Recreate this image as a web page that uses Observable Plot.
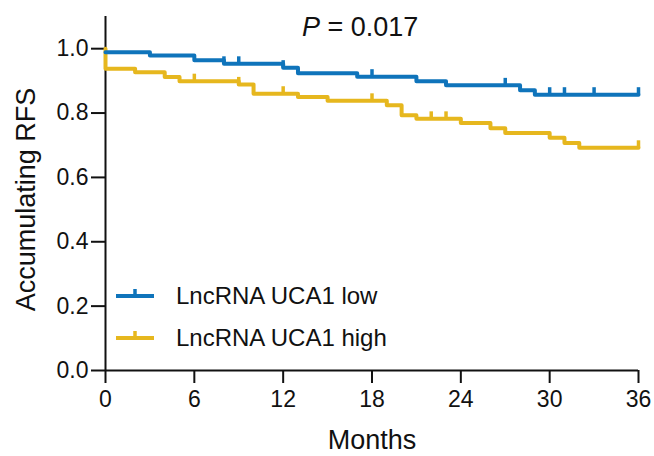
<!DOCTYPE html>
<html>
<head>
<meta charset="utf-8">
<script src="https://cdn.jsdelivr.net/npm/d3@7"></script>
<script src="https://cdn.jsdelivr.net/npm/@observablehq/plot@0.6"></script>
<style>
  body { margin: 0; background: #fff; }
  #wrap { position: relative; width: 654px; height: 456px; font-family: "Liberation Sans", Arial, sans-serif; color: #111; }
  #title { position: absolute; left: 302px; top: 14px; font-size: 27px; line-height: 27px; white-space: nowrap; }
  .lg { position: absolute; left: 116px; height: 30px; display: flex; align-items: center; font-size: 24px; line-height: 30px; white-space: nowrap; }
  .lg span { margin-left: 22px; }
  #wrap svg.plot { position: absolute; left: 0; top: 0; }
</style>
</head>
<body>
<div id="wrap">
  <div id="title"><i>P</i> = 0.017</div>
</div>
<script>
// ---- data ----
const groups = ["LncRNA UCA1 low", "LncRNA UCA1 high"];
const groupColors = ["#0f74bb", "#e6b71e"];
const monthTicks = [0, 6, 12, 18, 24, 30, 36];
const rfsTicks = [0, 0.2, 0.4, 0.6, 0.8, 1.0];

const lowTime = [0, 3, 6, 8, 12, 13, 17, 21, 23, 28, 29, 36];
const lowRFS  = [0.989, 0.979, 0.964, 0.953, 0.941, 0.924, 0.913, 0.899, 0.886, 0.871, 0.857, 0.857];
const lowCensored = [8, 9, 12, 18, 27, 30, 31, 33, 36];

const highTime = [0, 0, 2, 4, 5, 9, 10, 13, 15, 19, 20, 21, 24, 26, 27, 30, 31, 32, 36];
const highRFS  = [1.0, 0.938, 0.927, 0.912, 0.899, 0.889, 0.860, 0.850, 0.838, 0.824, 0.793, 0.782, 0.769, 0.753, 0.738, 0.723, 0.707, 0.692, 0.692];
const highCensored = [6, 9, 12, 18, 22, 23, 36];

// ---- build tables ----
function rfsAt(times, vals, t) {
  let v = vals[0];
  for (let i = 0; i < times.length; i++) if (times[i] <= t) v = vals[i];
  return v;
}
const lowData = lowTime.map((t, i) => ({t, s: lowRFS[i]}));
const highData = highTime.map((t, i) => ({t, s: highRFS[i]}));
const lowCens = lowCensored.map(t => ({t, s: rfsAt(lowTime, lowRFS, t)}));
const highCens = highCensored.map(t => ({t, s: rfsAt(highTime, highRFS, t)}));

const ink = "#111";
const chart = Plot.plot({
  width: 654,
  height: 456,
  marginLeft: 105,
  marginRight: 16,
  marginTop: 16,
  marginBottom: 86,
  x: {domain: [0, 36]},
  y: {domain: [0, 1.1]},
  style: {fontFamily: "'Liberation Sans', Arial, sans-serif", fontSize: "23px", color: ink, background: "transparent"},
  marks: [
    Plot.axisX({ticks: monthTicks, tickSize: 13, tickPadding: 7, strokeWidth: 2, stroke: ink, fill: ink, label: null, fontSize: 23}),
    Plot.axisY({ticks: rfsTicks, tickSize: 14, tickPadding: 3, strokeWidth: 2, stroke: ink, fill: ink, label: null, fontSize: 23, tickFormat: d3.format(".1f")}),
    Plot.ruleY([0], {stroke: ink, strokeWidth: 2}),
    Plot.ruleX([0], {y1: 0, y2: 1.1, stroke: ink, strokeWidth: 2}),
    Plot.line(highData, {x: "t", y: "s", curve: "step-after", stroke: groupColors[1], strokeWidth: 4}),
    Plot.ruleX(highCens, {x: "t", y1: "s", y2: "s", insetTop: -7, stroke: groupColors[1], strokeWidth: 3.5}),
    Plot.line(lowData, {x: "t", y: "s", curve: "step-after", stroke: groupColors[0], strokeWidth: 4}),
    Plot.ruleX(lowCens, {x: "t", y1: "s", y2: "s", insetTop: -7, stroke: groupColors[0], strokeWidth: 3.5}),
    Plot.text(["Months"], {frameAnchor: "bottom", dy: 78, fontSize: 27, fill: ink}),
    Plot.text(["Accumulating RFS"], {frameAnchor: "left", textAnchor: "middle", rotate: -90, dx: -79, dy: 6, fontSize: 27, fill: ink})
  ]
});
chart.classList.add("plot");
const wrap = document.getElementById("wrap");
wrap.insertBefore(chart, wrap.firstChild);

// legend (overlaid on the plot area)
const legendTops = [296 - 15, 337.5 - 15];
groups.forEach((g, i) => {
  const row = document.createElement("div");
  row.className = "lg";
  row.style.top = legendTops[i] + "px";
  row.innerHTML =
    `<svg width="38" height="30" style="display:block"><line x1="0" x2="38" y1="15" y2="15" stroke="${groupColors[i]}" stroke-width="4"/>` +
    `<line x1="19" x2="19" y1="15" y2="8" stroke="${groupColors[i]}" stroke-width="3.5"/></svg><span>${g}</span>`;
  wrap.appendChild(row);
});
</script>
</body>
</html>
